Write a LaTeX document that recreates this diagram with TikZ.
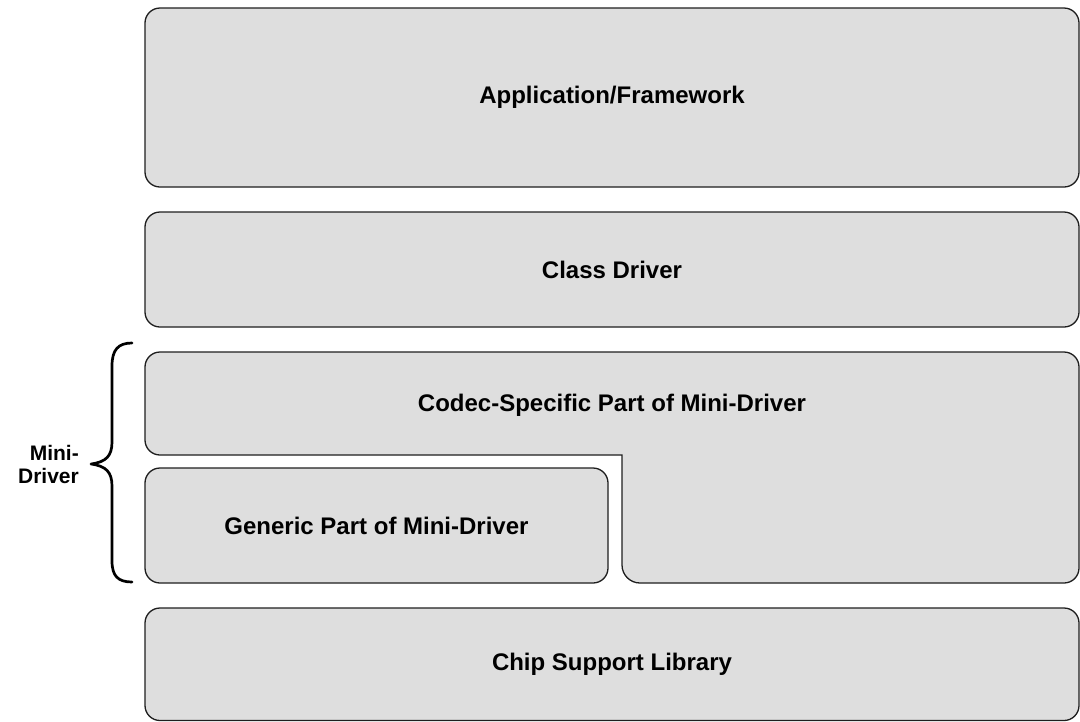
\documentclass[tikz,border=0pt]{standalone}
\usepackage{fontspec}
\setmainfont{Liberation Sans}
\definecolor{boxfill}{RGB}{222,222,222}
\definecolor{boxline}{RGB}{30,30,30}
\begin{document}
\begin{tikzpicture}[x=1pt,y=-1pt,
  layerbox/.style={draw=boxline, fill=boxfill, line width=1.3pt, rounded corners=15pt,
    inner sep=0pt, outer sep=0pt, font=\bfseries\fontsize{24}{28}\selectfont},
  lbl/.style={font=\bfseries\fontsize{24}{28}\selectfont, inner sep=0pt},
  bracestyle/.style={draw=black, line width=2.7pt, line cap=round, line join=round}]
\useasboundingbox (0,0) rectangle (1080,721);
\begin{scope}
\clip (0,0) rectangle (1080,721);
% Application/Framework
\node[layerbox, minimum width=934pt, minimum height=179pt] (app) at (612,97.5) {Application/Framework};
% Class Driver
\node[layerbox, minimum width=934pt, minimum height=115pt] (cls) at (612,269.5) {Class Driver};
% Codec-specific L-shape
\draw[draw=boxline, fill=boxfill, line width=1.3pt, line join=miter]
  (622,455) -- (160,455) arc[start angle=90, end angle=180, radius=15]
  -- (145,367) arc[start angle=180, end angle=270, radius=15]
  -- (1064,352) arc[start angle=270, end angle=360, radius=15]
  -- (1079,568) arc[start angle=0, end angle=90, radius=15]
  -- (640,583) arc[start angle=90, end angle=180, radius=18]
  -- cycle;
\node[lbl] (codec) at (612,405) {Codec-Specific Part of Mini-Driver};
% Generic part
\node[layerbox, minimum width=463pt, minimum height=115pt] (gen) at (376.5,525.5) {Generic Part of Mini-Driver};
% Chip Support Library
\node[layerbox, minimum width=934pt, minimum height=112.5pt] (csl) at (612,664.25) {Chip Support Library};
\end{scope}
% Brace
\coordinate (btop) at (132,343);
\coordinate (btip) at (91,464);
\coordinate (bbot) at (132,582);
\draw[bracestyle] (btop) .. controls (118,343) and (112,350) .. (112,366)
  -- (112,442) .. controls (112,456) and (106,462) .. (btip)
  .. controls (106,466) and (112,472) .. (112,486)
  -- (112,561) .. controls (112,576) and (118,582) .. (bbot);
\node[font=\bfseries\fontsize{21}{23}\selectfont, align=right, anchor=east, inner sep=0pt] (mini) at (79,464) {Mini-\\Driver};
\end{tikzpicture}
\end{document}
